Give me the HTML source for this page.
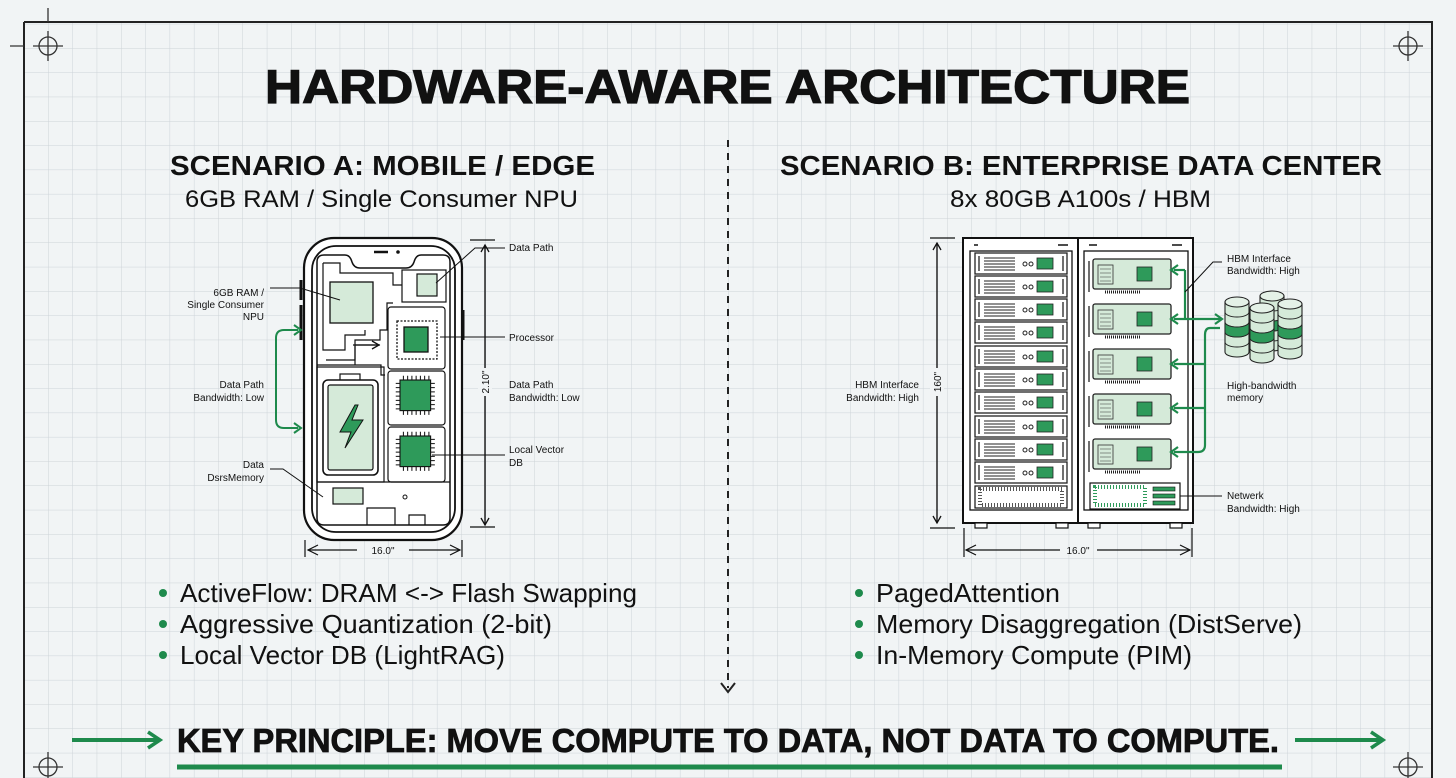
<!DOCTYPE html>
<html><head><meta charset="utf-8"><style>
html,body{margin:0;padding:0;background:#f1f4f5;}
svg{display:block;font-family:"Liberation Sans",sans-serif;}
</style></head><body>
<svg width="1456" height="778" viewBox="0 0 1456 778" xmlns="http://www.w3.org/2000/svg">
<defs>
<pattern id="grid" x="0" y="0" width="24.3" height="24.3" patternUnits="userSpaceOnUse">
<path d="M24.3 0V24.3M0 24.3H24.3" stroke="#cdd3d8" stroke-width="1" fill="none"/>
</pattern>
<marker id="ba" markerWidth="10" markerHeight="10" refX="8" refY="5" orient="auto" markerUnits="userSpaceOnUse"><path d="M1 1L8 5L1 9" fill="none" stroke="#111" stroke-width="1.3"/></marker>
<marker id="bigg" markerWidth="20" markerHeight="20" refX="16" refY="10" orient="auto" markerUnits="userSpaceOnUse"><path d="M4 2L16 10L4 18" fill="none" stroke="#1e8a4c" stroke-width="3.5"/></marker>
<g id="unit">
<rect x="0" y="0" width="92" height="21" fill="#fff" stroke="#222" stroke-width="1.3"/>
<path d="M4 3V18M88 3V18" stroke="#222" stroke-width="1.3"/>
<path d="M9 5H40M9 8H40M9 11H40M9 14H40M9 17H40" stroke="#222" stroke-width="0.9"/>
<circle cx="50" cy="11" r="2" fill="none" stroke="#222"/><circle cx="56" cy="11" r="2" fill="none" stroke="#222"/>
<rect x="62" y="5" width="16" height="11" fill="#2e9a5a" stroke="#222" stroke-width="0.8"/>
</g>
<g id="card">
<rect x="0" y="0" width="78" height="30" rx="2" fill="#d5ead9" stroke="#222" stroke-width="1.3"/>
<path d="M-4 2V33" stroke="#222" stroke-width="1.3"/>
<rect x="5" y="6" width="15" height="19" fill="none" stroke="#333" stroke-width="0.8"/>
<path d="M7 10H18M7 14H18M7 18H18M7 22H18" stroke="#333" stroke-width="0.6"/>
<rect x="44" y="8" width="15" height="14" fill="#2e9a5a" stroke="#222" stroke-width="0.8"/>
<path d="M12 33H48" stroke="#222" stroke-width="3" stroke-dasharray="1 1"/>
</g>
<g id="cyl">
<path d="M0 6V56A12 5 0 0 0 24 56V6" fill="#d5ead9" stroke="#222" stroke-width="1.1"/>
<ellipse cx="12" cy="6" rx="12" ry="5" fill="#e4f1e7" stroke="#222" stroke-width="1.1"/>
<path d="M0 16A12 5 0 0 0 24 16M0 26A12 5 0 0 0 24 26M0 36A12 5 0 0 0 24 36M0 46A12 5 0 0 0 24 46" fill="none" stroke="#222" stroke-width="0.9"/>
<path d="M0 26A12 5 0 0 0 24 26V36A12 5 0 0 1 0 36Z" fill="#2e9a5a" stroke="#222" stroke-width="0.9"/>
</g>
<g id="chip">
<rect x="0" y="0" width="36" height="36" fill="#2e9a5a" stroke="#111" stroke-width="1.3"/>
<path d="M4 -5V0M9 -5V0M14 -5V0M19 -5V0M24 -5V0M29 -5V0M34 -5V0M4 36V41M9 36V41M14 36V41M19 36V41M24 36V41M29 36V41M34 36V41M-5 4H0M-5 9H0M-5 14H0M-5 19H0M-5 24H0M-5 29H0M-5 34H0M36 4H41M36 9H41M36 14H41M36 19H41M36 24H41M36 29H41M36 34H41" stroke="#111" stroke-width="1.2"/>
</g>
</defs>
<rect width="1456" height="778" fill="#f1f4f5"/>
<rect x="24" y="22" width="1408" height="760" fill="url(#grid)"/>
<path d="M24 22V778M24 22H1432V778" stroke="#222" stroke-width="2" fill="none"/>
<g stroke="#333" stroke-width="1.3" fill="none">
<circle cx="48" cy="46" r="9"/><path d="M33 46H63M48 31V61"/>
<circle cx="1408" cy="46" r="9"/><path d="M1393 46H1423M1408 31V61"/>
<circle cx="48" cy="767" r="9"/><path d="M33 767H63M48 752V778"/>
<circle cx="1408" cy="767" r="9"/><path d="M1393 767H1423M1408 752V778"/>
<path d="M48 8V22M10 46H24"/>
</g>
<text x="265" y="103" font-size="47" font-weight="bold" fill="#111" stroke="#111" stroke-width="1.2" textLength="925" lengthAdjust="spacingAndGlyphs">HARDWARE-AWARE ARCHITECTURE</text>
<text x="170" y="175" font-size="28" font-weight="bold" fill="#111" textLength="425" lengthAdjust="spacingAndGlyphs">SCENARIO A: MOBILE / EDGE</text>
<text x="185" y="207" font-size="24" fill="#111" textLength="393" lengthAdjust="spacingAndGlyphs">6GB RAM / Single Consumer NPU</text>
<text x="780" y="175" font-size="28" font-weight="bold" fill="#111" textLength="602" lengthAdjust="spacingAndGlyphs">SCENARIO B: ENTERPRISE DATA CENTER</text>
<text x="950" y="207" font-size="24" fill="#111" textLength="261" lengthAdjust="spacingAndGlyphs">8x 80GB A100s / HBM</text>
<path d="M728 140V688" stroke="#222" stroke-width="2" stroke-dasharray="7 6"/>
<path d="M721 683L728 692L735 683" stroke="#222" stroke-width="2" fill="none"/>

<!-- PHONE -->
<rect x="304" y="238" width="158" height="302" rx="30" fill="#fff" stroke="#111" stroke-width="2.2"/>
<rect x="312" y="246" width="143" height="286" rx="24" fill="#fff" stroke="#111" stroke-width="1.8"/>
<path d="M317 262Q317 255 324 255H345Q350 255 352 262Q354 268 360 268H406Q412 268 414 262Q416 255 421 255H443Q450 255 450 262V518Q450 525 443 525H324Q317 525 317 518Z" fill="#fff" stroke="#111" stroke-width="1.5"/>
<path d="M374 252H388" stroke="#111" stroke-width="2.5"/><circle cx="398" cy="252" r="1.8" fill="#111"/>
<path d="M301 280V300M301 305V340M463 310V340" stroke="#111" stroke-width="3"/>
<g stroke="#111" stroke-width="1.2" fill="none">
<path d="M323 263H340V273H393V285H402"/>
<path d="M323 263V350H345V335H365V330"/>
<path d="M326 360H355V340H380V330H387V303H393"/>
<path d="M317 365H381V375H385"/>
<path d="M355 365V345H380"/>
</g>
<path d="M353 345H379" stroke="#111" stroke-width="1.2" marker-end="url(#ba)"/>
<rect x="330" y="282" width="43" height="41" fill="#d5ead9" stroke="#111" stroke-width="1.3"/>
<rect x="402" y="270" width="44" height="32" fill="#fff" stroke="#111" stroke-width="1.2"/>
<rect x="417" y="274" width="20" height="22" fill="#d5ead9" stroke="#111" stroke-width="1.2"/>
<rect x="388" y="307" width="57" height="62" rx="3" fill="#fff" stroke="#111" stroke-width="1.2"/>
<rect x="388" y="371" width="57" height="54" rx="3" fill="#fff" stroke="#111" stroke-width="1.2"/>
<rect x="388" y="427" width="57" height="55" rx="3" fill="#fff" stroke="#111" stroke-width="1.2"/>
<rect x="397" y="321" width="40" height="38" fill="#fff" stroke="#111" stroke-width="1.3" stroke-dasharray="2 1.5"/>
<rect x="404" y="327" width="24" height="25" fill="#2e9a5a" stroke="#111" stroke-width="1.3"/>
<use href="#chip" transform="translate(400,380) scale(0.85)"/>
<use href="#chip" transform="translate(400,436) scale(0.85)"/>
<rect x="317" y="367" width="67" height="115" fill="none" stroke="#111" stroke-width="1.2"/>
<rect x="340" y="374" width="20" height="7" fill="#fff" stroke="#111" stroke-width="1.2"/>
<rect x="323" y="380" width="55" height="95" rx="5" fill="#fff" stroke="#111" stroke-width="1.6"/>
<rect x="328" y="385" width="45" height="85" rx="2" fill="#d5ead9" stroke="#111" stroke-width="1.2"/>
<path d="M355 405L340 432H351L345 448L363 420H352L358 405Z" fill="#2e9a5a" stroke="#111" stroke-width="1"/>
<path d="M317 482H450" stroke="#111" stroke-width="1.2"/>
<rect x="333" y="488" width="30" height="16" fill="#d5ead9" stroke="#111" stroke-width="1.2"/>
<path d="M367 525V508H395V525M409 525V515H425V525" stroke="#111" stroke-width="1.2" fill="none"/>
<circle cx="405" cy="497" r="2" fill="none" stroke="#111"/>
<g stroke="#111" stroke-width="1.2" fill="none">
<path d="M470 240H495M470 527H495M305 540V557M462 540V557"/>
<path d="M485 245V525" marker-end="url(#ba)"/><path d="M485 525V245" marker-end="url(#ba)"/>
<path d="M308 550H357M409 550H460"/>
<path d="M318 545L308 550L318 555M450 545L460 550L450 555"/>
</g>
<rect x="478" y="368" width="14" height="28" fill="#f1f4f5"/>
<text x="489" y="382" font-size="10" fill="#111" text-anchor="middle" transform="rotate(-90 489 382)">2.10"</text>
<text x="383" y="554" font-size="10" fill="#111" text-anchor="middle">16.0"</text>
<g font-size="10" fill="#111">
<text x="509" y="251">Data Path</text>
<text x="509" y="341">Processor</text>
<text x="509" y="388">Data Path</text><text x="509" y="401">Bandwidth: Low</text>
<text x="509" y="453">Local Vector</text><text x="509" y="466">DB</text>
<g text-anchor="end">
<text x="264" y="296">6GB RAM /</text><text x="264" y="308">Single Consumer</text><text x="264" y="320">NPU</text>
<text x="264" y="388">Data Path</text><text x="264" y="401">Bandwidth: Low</text>
<text x="264" y="468">Data</text><text x="264" y="481">DsrsMemory</text>
</g>
</g>
<g stroke="#111" stroke-width="1" fill="none">
<path d="M505 248H475L436 283"/>
<path d="M270 288H300L340 300"/>
<path d="M505 337H440"/>
<path d="M505 455H432"/>
<path d="M270 469H283L323 497"/>
</g>
<path d="M298 330H284Q276 330 276 338V420Q276 428 284 428H298" stroke="#1e8a4c" stroke-width="2" fill="none"/>
<path d="M294 325L301 330L294 335M294 423L301 428L294 433" stroke="#1e8a4c" stroke-width="2" fill="none"/>

<!-- SERVER -->
<rect x="963" y="238" width="230" height="285" fill="#fff" stroke="#111" stroke-width="2"/>
<path d="M1078 238V523" stroke="#111" stroke-width="2"/>
<rect x="970" y="251" width="102" height="259" fill="#fff" stroke="#111" stroke-width="1.3"/>
<rect x="1084" y="251" width="104" height="259" fill="#fff" stroke="#111" stroke-width="1.3"/>
<path d="M974 245H978M1058 245H1068M1089 245H1097M1172 245H1182" stroke="#111" stroke-width="1.5"/>
<use href="#unit" x="975" y="253"/><use href="#unit" x="975" y="276"/><use href="#unit" x="975" y="299"/>
<use href="#unit" x="975" y="322"/><use href="#unit" x="975" y="346"/><use href="#unit" x="975" y="369"/>
<use href="#unit" x="975" y="392"/><use href="#unit" x="975" y="416"/><use href="#unit" x="975" y="439"/>
<use href="#unit" x="975" y="462"/>
<rect x="975" y="486" width="92" height="22" fill="#fff" stroke="#111" stroke-width="1.2"/>
<rect x="980" y="489" width="82" height="16" fill="none" stroke="#555" stroke-width="4" stroke-dasharray="1 2"/>
<use href="#card" x="1093" y="259"/><use href="#card" x="1093" y="304"/><use href="#card" x="1093" y="349"/>
<use href="#card" x="1093" y="394"/><use href="#card" x="1093" y="439"/>
<rect x="1090" y="483" width="90" height="26" fill="#fff" stroke="#111" stroke-width="1.2"/>
<rect x="1095" y="487" width="50" height="18" fill="none" stroke="#2e9a5a" stroke-width="4" stroke-dasharray="1 2"/>
<rect x="1153" y="487" width="22" height="4" fill="#2e9a5a" stroke="#111" stroke-width="0.6"/>
<rect x="1153" y="494" width="22" height="4" fill="#2e9a5a" stroke="#111" stroke-width="0.6"/>
<rect x="1153" y="501" width="22" height="4" fill="#2e9a5a" stroke="#111" stroke-width="0.6"/>
<g fill="#fff" stroke="#111" stroke-width="1.2">
<rect x="975" y="523" width="12" height="5"/><rect x="1056" y="523" width="12" height="5"/>
<rect x="1088" y="523" width="12" height="5"/><rect x="1170" y="523" width="12" height="5"/>
</g>
<use href="#cyl" x="1260" y="290"/>
<use href="#cyl" x="1225" y="296"/>
<use href="#cyl" x="1278" y="298"/>
<use href="#cyl" x="1250" y="302"/>
<g stroke="#1e8a4c" stroke-width="2.2" fill="none">
<path d="M1185 270V320"/>
<path d="M1174 270H1185"/>
<path d="M1174 319H1220"/>
<path d="M1220 328H1210Q1205 328 1205 335V445Q1205 452 1198 452H1174"/>
<path d="M1205 364H1174M1205 408H1174"/>
</g>
<path d="M1178 265L1171 270L1178 275M1178 314L1171 319L1178 324M1178 359L1171 364L1178 369M1178 403L1171 408L1178 413M1178 447L1171 452L1178 457M1215 314L1222 319L1215 324" stroke="#1e8a4c" stroke-width="2.2" fill="none"/>
<g stroke="#111" stroke-width="1.2" fill="none">
<path d="M930 238H955M930 528H955M964 528V557M1192 528V557"/>
<path d="M937 243V523" marker-end="url(#ba)"/><path d="M937 523V243" marker-end="url(#ba)"/>
<path d="M966 550H1060M1097 550H1190"/>
<path d="M976 545L966 550L976 555M1180 545L1190 550L1180 555"/>
</g>
<rect x="930" y="368" width="14" height="28" fill="#f1f4f5"/>
<text x="941" y="382" font-size="10" fill="#111" text-anchor="middle" transform="rotate(-90 941 382)">160"</text>
<text x="1078" y="554" font-size="10" fill="#111" text-anchor="middle">16.0"</text>
<g font-size="10" fill="#111">
<text x="1227" y="262">HBM Interface</text><text x="1227" y="274">Bandwidth: High</text>
<text x="1227" y="389">High-bandwidth</text><text x="1227" y="401">memory</text>
<text x="1227" y="499">Netwerk</text><text x="1227" y="512">Bandwidth: High</text>
<text x="919" y="388" text-anchor="end">HBM Interface</text><text x="919" y="401" text-anchor="end">Bandwidth: High</text>
</g>
<path d="M1222 262H1213L1185 292M1180 496H1222" stroke="#111" stroke-width="1" fill="none"/>

<g font-size="26" fill="#111">
<circle cx="163" cy="593" r="4" fill="#1e8a4c"/><text x="180" y="602" textLength="457" lengthAdjust="spacingAndGlyphs">ActiveFlow: DRAM &lt;-&gt; Flash Swapping</text>
<circle cx="163" cy="624" r="4" fill="#1e8a4c"/><text x="180" y="633" textLength="372" lengthAdjust="spacingAndGlyphs">Aggressive Quantization (2-bit)</text>
<circle cx="163" cy="655" r="4" fill="#1e8a4c"/><text x="180" y="664" textLength="325" lengthAdjust="spacingAndGlyphs">Local Vector DB (LightRAG)</text>
<circle cx="859" cy="593" r="4" fill="#1e8a4c"/><text x="876" y="602" textLength="184" lengthAdjust="spacingAndGlyphs">PagedAttention</text>
<circle cx="859" cy="624" r="4" fill="#1e8a4c"/><text x="876" y="633" textLength="426" lengthAdjust="spacingAndGlyphs">Memory Disaggregation (DistServe)</text>
<circle cx="859" cy="655" r="4" fill="#1e8a4c"/><text x="876" y="664" textLength="316" lengthAdjust="spacingAndGlyphs">In-Memory Compute (PIM)</text>
</g>
<path d="M72 740H160" stroke="#1e8a4c" stroke-width="4" marker-end="url(#bigg)"/>
<path d="M1295 740H1383" stroke="#1e8a4c" stroke-width="4" marker-end="url(#bigg)"/>
<text x="177" y="752" font-size="33" font-weight="bold" fill="#111" stroke="#111" stroke-width="0.8" textLength="1102" lengthAdjust="spacingAndGlyphs">KEY PRINCIPLE: MOVE COMPUTE TO DATA, NOT DATA TO COMPUTE.</text>
<path d="M177 767H1282" stroke="#1e8a4c" stroke-width="5"/>
</svg>
</body></html>
